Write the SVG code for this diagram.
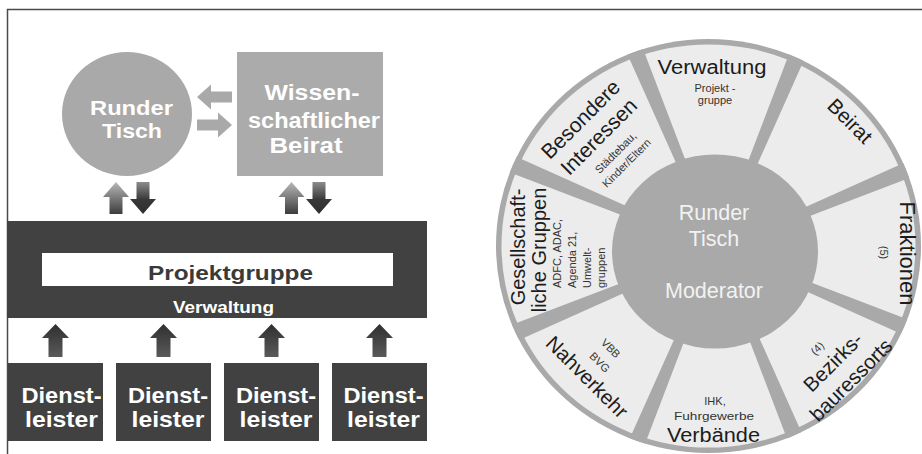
<svg xmlns="http://www.w3.org/2000/svg" width="922" height="454" viewBox="0 0 922 454">
<defs>
<style>
.b{font-family:"Liberation Sans",Arial,sans-serif;font-weight:bold;fill:#ffffff}
.r{font-family:"Liberation Sans",Arial,sans-serif;fill:#1c1c1c}
.s{font-family:"Liberation Sans",Arial,sans-serif;fill:#333333;font-size:11px}
.hub{font-family:"Liberation Sans",Arial,sans-serif;fill:#f2f2f2;font-size:21.5px}
.m{text-anchor:middle}
.dark{fill:#414141}
.lg{fill:#a9a9a9}
</style>
<linearGradient id="gUp" x1="0" y1="0" x2="0" y2="1">
<stop offset="0" stop-color="#b8b8b8"/><stop offset="1" stop-color="#3c3c3c"/>
</linearGradient>
<linearGradient id="gDown" x1="0" y1="0" x2="0" y2="1">
<stop offset="0" stop-color="#8c8c8c"/><stop offset="0.55" stop-color="#383838"/><stop offset="1" stop-color="#2e2e2e"/>
</linearGradient>
<linearGradient id="gDark" x1="0" y1="0" x2="0" y2="1">
<stop offset="0" stop-color="#2f2f2f"/><stop offset="1" stop-color="#5a5a5a"/>
</linearGradient>
<polygon id="upA" points="0,0 13,15 6.5,15 6.5,32 -6.5,32 -6.5,15 -13,15"/>
<polygon id="downA" points="0,32 13,17 6.5,17 6.5,0 -6.5,0 -6.5,17 -13,17"/>
<polygon id="bupA" points="0,0 13.5,14 7,14 7,33 -7,33 -7,14 -13.5,14"/>
<polygon id="spoke" points="60,-3.9 240,-9 240,9 60,3.9"/>
<clipPath id="wheelClip"><ellipse cx="708.5" cy="246" rx="212.5" ry="207"/></clipPath>
</defs>

<g id="frame" fill="none" stroke="#4a4a4a" stroke-width="1.5">
<path d="M7.5,454 V9.5 H922"/>
</g>

<g id="node-runder-tisch">
<ellipse class="lg" cx="127" cy="114" rx="65" ry="62"/>
<text class="b m" x="131.5" y="115" font-size="21" textLength="83" lengthAdjust="spacingAndGlyphs">Runder</text>
<text class="b m" x="132" y="138" font-size="21" textLength="60" lengthAdjust="spacingAndGlyphs">Tisch</text>
</g>

<g id="node-beirat">
<rect fill="#ababab" x="237" y="52" width="146" height="124"/>
<text class="b m" x="312" y="100" font-size="22" textLength="95" lengthAdjust="spacingAndGlyphs">Wissen-</text>
<text class="b m" x="314" y="128" font-size="22" textLength="132" lengthAdjust="spacingAndGlyphs">schaftlicher</text>
<text class="b m" x="306" y="153" font-size="22" textLength="73" lengthAdjust="spacingAndGlyphs">Beirat</text>
</g>

<g id="node-projektgruppe">
<rect class="dark" x="7" y="221" width="420" height="97"/>
<rect fill="#ffffff" x="42" y="253" width="351" height="33"/>
<text class="m" x="230.5" y="280" font-family="Liberation Sans, Arial, sans-serif" font-weight="bold" font-size="21" fill="#3a3a3a" textLength="165" lengthAdjust="spacingAndGlyphs">Projektgruppe</text>
<text class="b m" x="223.5" y="313" font-size="16.5" textLength="101" lengthAdjust="spacingAndGlyphs">Verwaltung</text>
</g>

<g id="node-dienstleister-1">
<rect class="dark" x="8" y="363" width="95" height="78"/>
<text class="b m" x="61.5" y="403" font-size="22" textLength="80" lengthAdjust="spacingAndGlyphs">Dienst-</text>
<text class="b m" x="61.5" y="427" font-size="22" textLength="73" lengthAdjust="spacingAndGlyphs">leister</text>
</g>
<g id="node-dienstleister-2">
<rect class="dark" x="116" y="363" width="95" height="78"/>
<text class="b m" x="168" y="403" font-size="22" textLength="80" lengthAdjust="spacingAndGlyphs">Dienst-</text>
<text class="b m" x="168" y="427" font-size="22" textLength="73" lengthAdjust="spacingAndGlyphs">leister</text>
</g>
<g id="node-dienstleister-3">
<rect class="dark" x="224" y="363" width="95" height="78"/>
<text class="b m" x="276" y="403" font-size="22" textLength="80" lengthAdjust="spacingAndGlyphs">Dienst-</text>
<text class="b m" x="276" y="427" font-size="22" textLength="73" lengthAdjust="spacingAndGlyphs">leister</text>
</g>
<g id="node-dienstleister-4">
<rect class="dark" x="332" y="363" width="95" height="78"/>
<text class="b m" x="383.5" y="403" font-size="22" textLength="80" lengthAdjust="spacingAndGlyphs">Dienst-</text>
<text class="b m" x="383.5" y="427" font-size="22" textLength="73" lengthAdjust="spacingAndGlyphs">leister</text>
</g>

<g id="connectors">
<polygon fill="#a9a9a9" points="197,97 211,84.5 211,91.5 232,91.5 232,102.5 211,102.5 211,109.5"/>
<polygon fill="#a9a9a9" points="232,125 218,112.5 218,119.5 197,119.5 197,130.5 218,130.5 218,137.5"/>
<use href="#upA" x="116" y="182" fill="url(#gUp)"/>
<use href="#downA" x="143" y="182" fill="url(#gDown)"/>
<use href="#upA" x="291.5" y="182" fill="url(#gUp)"/>
<use href="#downA" x="319" y="182" fill="url(#gDown)"/>
<use href="#bupA" x="55.5" y="324" fill="url(#gDark)"/>
<use href="#bupA" x="163.5" y="324" fill="url(#gDark)"/>
<use href="#bupA" x="271.5" y="324" fill="url(#gDark)"/>
<use href="#bupA" x="379.5" y="324" fill="url(#gDark)"/>
</g>

<g id="wheel">
<ellipse fill="#a9a9a9" cx="708.5" cy="246" rx="212.5" ry="207"/>
<ellipse fill="#ececec" cx="708.5" cy="246" rx="207" ry="201.5"/>
<g clip-path="url(#wheelClip)" fill="#a9a9a9">
<use href="#spoke" transform="translate(717,249) rotate(22.5)"/>
<use href="#spoke" transform="translate(717,249) rotate(67.5)"/>
<use href="#spoke" transform="translate(717,249) rotate(112.5)"/>
<use href="#spoke" transform="translate(717,249) rotate(157.5)"/>
<use href="#spoke" transform="translate(717,249) rotate(202.5)"/>
<use href="#spoke" transform="translate(717,249) rotate(247.5)"/>
<use href="#spoke" transform="translate(717,249) rotate(292.5)"/>
<use href="#spoke" transform="translate(717,249) rotate(337.5)"/>
</g>
<g id="hub">
<ellipse fill="#a9a9a9" cx="715" cy="251.5" rx="103" ry="97"/>
<text class="hub m" x="714" y="220">Runder</text>
<text class="hub m" x="714" y="246">Tisch</text>
<text class="hub m" x="714" y="298">Moderator</text>
</g>
<g id="seg-verwaltung">
<text class="r m" x="712" y="74" font-size="20" textLength="109" lengthAdjust="spacingAndGlyphs">Verwaltung</text>
<text class="s m" x="715" y="92" font-size="10.5">Projekt -</text>
<text class="s m" x="715" y="104" font-size="10.5">gruppe</text>
</g>
<g id="seg-beirat">
<text class="r m" font-size="20.5" transform="translate(845,126) rotate(45)">Beirat</text>
</g>
<g id="seg-fraktionen">
<text class="r m" font-size="22" transform="translate(900,253.5) rotate(90)">Fraktionen</text>
<text class="s m" transform="translate(880,252.5) rotate(90)">(5)</text>
</g>
<g id="seg-bezirke">
<text class="s m" transform="translate(820,351) rotate(-45)">(4)</text>
<text class="r m" font-size="20.5" transform="translate(838,367) rotate(-45)">Bezirks-</text>
<text class="r m" font-size="20.5" transform="translate(856,385) rotate(-45)">bauressorts</text>
</g>
<g id="seg-verbaende">
<text class="s m" x="715" y="405" font-size="12.5">IHK,</text>
<text class="s m" x="714" y="420" font-size="12.5" textLength="80" lengthAdjust="spacingAndGlyphs">Fuhrgewerbe</text>
<text class="r m" x="713.5" y="442" font-size="20" textLength="93" lengthAdjust="spacingAndGlyphs">Verbände</text>
</g>
<g id="seg-nahverkehr">
<text class="s m" font-size="12" transform="translate(608,351) rotate(45)">VBB</text>
<text class="s m" font-size="12" transform="translate(597,365) rotate(45)">BVG</text>
<text class="r m" font-size="20.5" transform="translate(582,382) rotate(45)">Nahverkehr</text>
</g>
<g id="seg-gesellschaft">
<text class="r m" font-size="20" transform="translate(525,247) rotate(-90)">Gesellschaft-</text>
<text class="r m" font-size="20" transform="translate(546,250) rotate(-90)">liche Gruppen</text>
<text class="s" font-size="12" transform="translate(561,288) rotate(-90)">ADFC, ADAC,</text>
<text class="s" font-size="12" transform="translate(576,288) rotate(-90)">Agenda 21,</text>
<text class="s" font-size="12" transform="translate(591,288) rotate(-90)">Umwelt-</text>
<text class="s" font-size="12" transform="translate(605,288) rotate(-90)">gruppen</text>
</g>
<g id="seg-besondere">
<text class="r m" font-size="21" transform="translate(585.7,124.4) rotate(-45)">Besondere</text>
<text class="r m" font-size="21" transform="translate(603.8,141.6) rotate(-45)">Interessen</text>
<text class="s m" transform="translate(618.3,155.4) rotate(-45)">Städtebau,</text>
<text class="s m" transform="translate(629.2,165.7) rotate(-45)">Kinder/Eltern</text>
</g>
</g>
</svg>
